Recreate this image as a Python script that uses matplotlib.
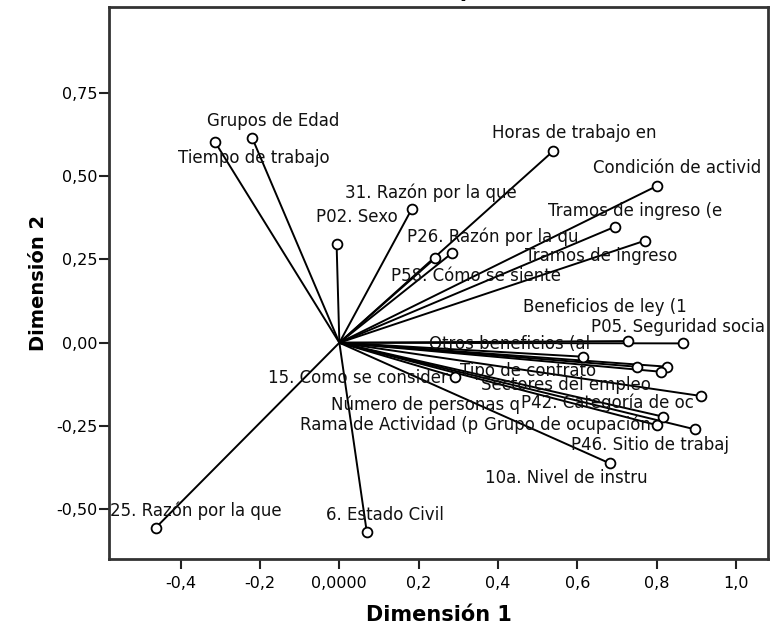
import matplotlib.pyplot as plt

# Component loadings (Dimension 1, Dimension 2)
variables = [
    "Grupos de Edad", "Tiempo de trabajo", "P02. Sexo", "31. Razón por la que",
    "Horas de trabajo en", "Condición de activid", "Tramos de ingreso (e",
    "Tramos de ingreso", "P26. Razón por la qu", "P58. Cómo se siente",
    "Beneficios de ley (1", "P05. Seguridad socia", "Otros beneficios (al",
    "Tipo de contrato", "Sectores del empleo", "Número de personas q",
    "15. Como se consider", "P42. Categoría de oc", "Rama de Actividad (p",
    "Grupo de ocupación", "P46. Sitio de trabaj", "10a. Nivel de instru",
    "25. Razón por la que", "6. Estado Civil",
]
dim1 = [-0.220, -0.314, -0.007, 0.182, 0.539, 0.800, 0.695, 0.770, 0.283, 0.241,
        0.728, 0.866, 0.615, 0.750, 0.827, 0.810, 0.291, 0.913, 0.817, 0.800,
        0.897, 0.682, -0.463, 0.069]
dim2 = [0.615, 0.603, 0.295, 0.400, 0.575, 0.470, 0.348, 0.306, 0.268, 0.253,
        0.005, -0.002, -0.042, -0.072, -0.072, -0.087, -0.102, -0.160, -0.222, -0.247,
        -0.260, -0.362, -0.555, -0.567]

xtick_vals = [-0.4, -0.2, 0.0, 0.2, 0.4, 0.6, 0.8, 1.0]
xtick_labels = ["-0,4", "-0,2", "0,0000", "0,2", "0,4", "0,6", "0,8", "1,0"]
ytick_vals = [-0.50, -0.25, 0.00, 0.25, 0.50, 0.75]
ytick_labels = ["-0,50", "-0,25", "0,00", "0,25", "0,50", "0,75"]

# label placement (pixel offsets from each point, x right / y down), SPSS-like
label_offsets = [
    (21, -17), (39, 16), (20, -27), (19, -17), (21, -18), (21, -18), (20, -16),
    (-43, 15), (41, -17), (41, 18), (-23, -34), (-5, -16), (-74, -13),
    (-109, 4), (-101, 18), (-235, 33), (-97, 1), (-94, 7), (-274, 8),
    (-89, 0), (-45, 16), (-43, 15), (40, -17), (18, -17),
]

plt.rcParams['font.family'] = ['DejaVu Sans']

fig = plt.figure(figsize=(7.7, 6.31), dpi=100)
W, H = 770, 631
ax = fig.add_axes([109 / W, (H - 559) / H, (768 - 109) / W, (559 - 7) / H])

for x, y in zip(dim1, dim2):
    ax.plot([0, x], [0, y], color='black', lw=1.4, zorder=2)
ax.scatter(dim1, dim2, s=50, facecolors='white', edgecolors='black',
           linewidths=1.3, zorder=3)

for name, x, y, (dx, dy) in zip(variables, dim1, dim2, label_offsets):
    ax.annotate(name, (x, y), xytext=(dx, -dy), textcoords='offset pixels',
                ha='center', va='center', fontsize=12, color='#111111', zorder=4)

ax.set_xlim(-0.581, 1.081)
ax.set_ylim(-0.649, 1.0075)
ax.set_xticks(xtick_vals)
ax.set_xticklabels(xtick_labels)
ax.set_yticks(ytick_vals)
ax.set_yticklabels(ytick_labels)
ax.tick_params(direction='out', length=7, width=1.5, labelsize=11.5, color='#222222')
ax.tick_params(axis='x', pad=5)
ax.tick_params(axis='y', pad=1)
for sp in ax.spines.values():
    sp.set_linewidth(2)
    sp.set_color('#333333')

ax.set_xlabel("Dimensión 1", fontsize=15, fontweight='bold', labelpad=10)
ax.set_ylabel("Dimensión 2", fontsize=14, fontweight='bold', labelpad=6)

# title sits above the visible area (only its descender shows in the original)
fig.text(391.5 / W, 1 + 3 / H, "Saturaciones en componentes", ha='center',
         va='baseline', fontsize=15, fontweight='bold')

fig.savefig("out.png", dpi=100)
